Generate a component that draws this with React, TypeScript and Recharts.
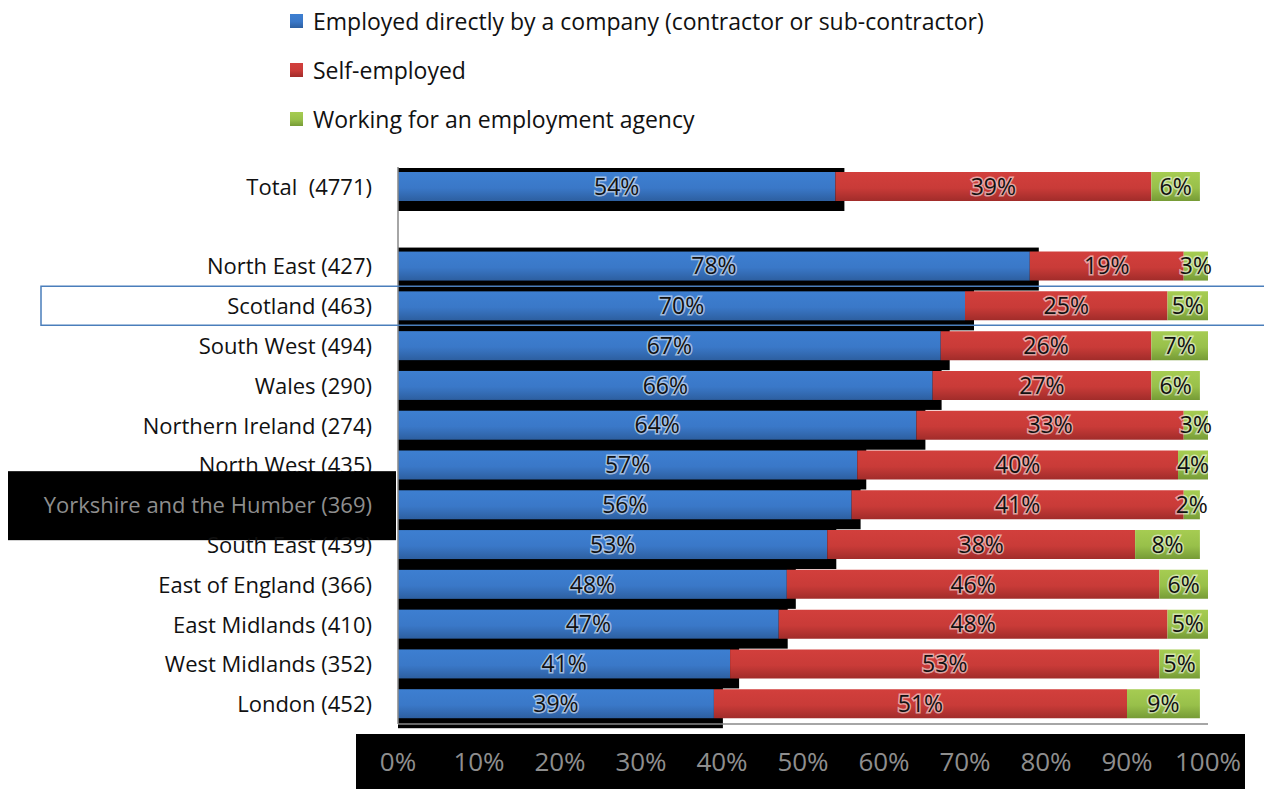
import { BarChart, Bar, XAxis, YAxis, LabelList } from "recharts";

const categories = [
  "Total  (4771)",
  "",
  "North East (427)",
  "Scotland (463)",
  "South West (494)",
  "Wales (290)",
  "Northern Ireland (274)",
  "North West (435)",
  "Yorkshire and the Humber (369)",
  "South East (439)",
  "East of England (366)",
  "East Midlands (410)",
  "West Midlands (352)",
  "London (452)",
];
const employed = [54, null, 78, 70, 67, 66, 64, 56.7, 56, 53, 48, 47, 41, 39];
const selfEmployed = [39, null, 19, 25, 26, 27, 33, 39.6, 41, 38, 46, 48, 53, 51];
const agency = [6, null, 3, 5, 7, 6, 3, 3.7, 2, 8, 6, 5, 5, 9];
const xTicks = [0, 10, 20, 30, 40, 50, 60, 70, 80, 90, 100];

const seriesNames = [
  "Employed directly by a company (contractor or sub-contractor)",
  "Self-employed",
  "Working for an employment agency",
];

const data = categories.map((name, i) => ({
  name,
  employed: employed[i],
  self: selfEmployed[i],
  agency: agency[i],
}));

const FONT = "'Open Sans', 'Noto Sans', sans-serif";

const legendColors = ["url(#gBlue)", "url(#gRed)", "url(#gGreen)"];

// blue bars carry the odd black shadow strip seen in the original
const ShadowBar = (props: any) => {
  const { x, y, width, height, fill } = props;
  if (!width || !height) return null;
  return (
    <g>
      <rect x={x} y={y - 4} width={width + 9} height={height + 14} fill="#000" />
      <rect x={x} y={y} width={width} height={height} fill={fill} />
    </g>
  );
};

const YTick = (props: any) => {
  const { x, y, payload } = props;
  const v = payload.value as string;
  const isYork = v.startsWith("Yorkshire");
  const isScot = v.startsWith("Scotland");
  return (
    <g>
      {isYork && <rect x={8} y={y - 34} width={388} height={69} fill="#000" />}
      {isScot && (
        <rect x={41} y={y - 20} width={1240} height={39} fill="none" stroke="#4a7ebb" strokeWidth={1.5} />
      )}
      <text
        x={x - 18}
        y={y}
        dy={8}
        textAnchor="end"
        fontFamily={FONT}
        fontSize={22}
        fill={isYork ? "#8e8e8e" : "#111"}
        stroke={isYork ? "#000" : "none"}
        strokeWidth={isYork ? 2.5 : 0}
        paintOrder="stroke"
        style={{ whiteSpace: "pre" }}
      >
        {v}
      </text>
    </g>
  );
};

const XTick = (props: any) => {
  const { x, y, payload, index } = props;
  return (
    <g>
      {index === 0 && <rect x={356} y={y + 2} width={889} height={70} fill="#000" />}
      <text
        x={x}
        y={y + 30}
        dy={9}
        textAnchor="middle"
        fontFamily={FONT}
        fontSize={26}
        fill="#8e8e8e"
        stroke="#000"
        strokeWidth={2.5}
        paintOrder="stroke"
      >
        {`${payload.value}%`}
      </text>
    </g>
  );
};

const labelStyle = {
  fontFamily: FONT,
  fontSize: 23,
  fill: "#111",
  stroke: "#ffffff",
  strokeWidth: 3,
  strokeOpacity: 0.55,
  paintOrder: "stroke",
} as any;

const fmt = (v: any) => (v == null ? "" : `${Math.round(v)}%`);

export default function App() {
  return (
    <div style={{ position: "absolute", left: 0, top: 0, width: 1264, height: 789, background: "#fff" }}>
      <svg width={0} height={0} style={{ position: "absolute" }}>
        <defs>
          <linearGradient id="gBlue" x1="0" y1="0" x2="0" y2="1">
            <stop offset="0%" stopColor="#3d7fd1" />
            <stop offset="55%" stopColor="#3a78c8" />
            <stop offset="100%" stopColor="#2d5fa0" />
          </linearGradient>
          <linearGradient id="gRed" x1="0" y1="0" x2="0" y2="1">
            <stop offset="0%" stopColor="#d23f3c" />
            <stop offset="55%" stopColor="#c93b38" />
            <stop offset="100%" stopColor="#a12c2a" />
          </linearGradient>
          <linearGradient id="gGreen" x1="0" y1="0" x2="0" y2="1">
            <stop offset="0%" stopColor="#a6cc52" />
            <stop offset="55%" stopColor="#98c04a" />
            <stop offset="100%" stopColor="#769b36" />
          </linearGradient>
        </defs>
      </svg>
      <div style={{ position: "absolute", left: 290, top: -4, fontFamily: FONT, fontSize: 23, color: "#111" }}>
        {seriesNames.map((n, i) => (
          <div key={n} style={{ display: "flex", alignItems: "center", height: 49 }}>
            <svg width={13} height={14} style={{ marginRight: 10 }}>
              <rect width={13} height={14} fill={legendColors[i]} />
            </svg>
            <span>{n}</span>
          </div>
        ))}
      </div>
      <BarChart
        width={1264}
        height={789}
        data={data}
        layout="vertical"
        margin={{ top: 167, right: 56, bottom: 0, left: 0 }}
        barSize={29}
      >
        <XAxis
          type="number"
          domain={[0, 100]}
          ticks={xTicks}
          allowDataOverflow
          tickLine={false}
          axisLine={{ stroke: "#888", strokeWidth: 1.5 }}
          tick={<XTick />}
          height={65}
          interval={0}
        />
        <YAxis
          type="category"
          dataKey="name"
          width={398}
          tickLine={false}
          axisLine={{ stroke: "#888", strokeWidth: 1.5 }}
          tick={<YTick />}
          interval={0}
        />
        <Bar dataKey="employed" stackId="a" fill="url(#gBlue)" shape={<ShadowBar />} isAnimationActive={false}>
          <LabelList dataKey="employed" position="center" formatter={fmt} style={labelStyle} />
        </Bar>
        <Bar dataKey="self" stackId="a" fill="url(#gRed)" isAnimationActive={false}>
          <LabelList dataKey="self" position="center" formatter={fmt} style={labelStyle} />
        </Bar>
        <Bar dataKey="agency" stackId="a" fill="url(#gGreen)" isAnimationActive={false}>
          <LabelList dataKey="agency" position="center" formatter={fmt} style={labelStyle} />
        </Bar>
      </BarChart>
    </div>
  );
}
